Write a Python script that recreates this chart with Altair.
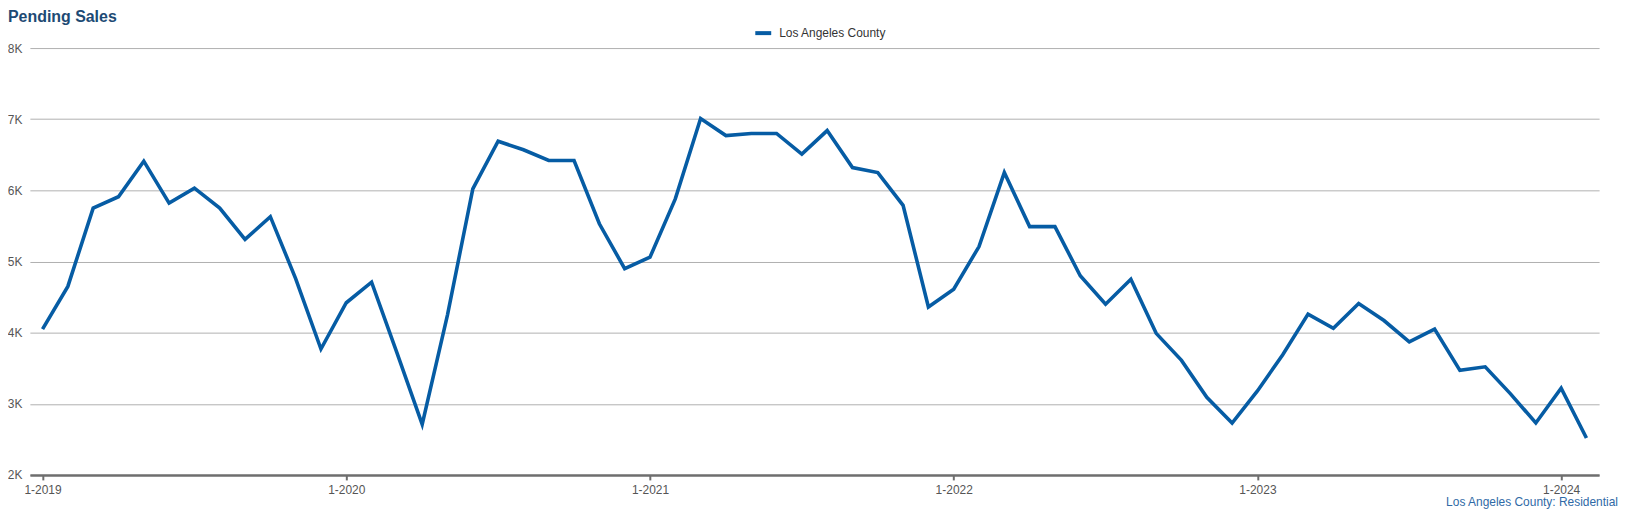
import altair as alt
import pandas as pd

# ---- data ----
years = [2019, 2020, 2021, 2022, 2023, 2024]
month_labels = [f"{m}-{y}" for y in years for m in range(1, 13)][:62]  # Jan 2019 .. Feb 2024
pending_sales = [
    4050, 4650, 5750, 5910, 6410, 5820, 6030, 5750, 5310, 5630, 4760, 3770,   # 2019
    4420, 4710, 3720, 2710, 4250, 6020, 6690, 6570, 6420, 6420, 5530, 4900,   # 2020
    5060, 5880, 7010, 6770, 6800, 6800, 6510, 6840, 6320, 6250, 5790, 4360,   # 2021
    4610, 5210, 6250, 5490, 5490, 4800, 4400, 4750, 3990, 3610, 3090, 2730,   # 2022
    3180, 3690, 4260, 4060, 4410, 4170, 3870, 4050, 3470, 3520, 3140, 2730,   # 2023
    3220, 2520,                                                              # 2024
]
series_name = "Los Angeles County"
tick_labels = ["1-2019", "1-2020", "1-2021", "1-2022", "1-2023", "1-2024"]
y_ticks = [2000, 3000, 4000, 5000, 6000, 7000, 8000]
title_text = "Pending Sales"
source_text = "Los Angeles County: Residential"

df = pd.DataFrame({
    "month": month_labels,
    "value": pending_sales,
    "series": [series_name] * len(month_labels),
})

FONT = "Liberation Sans"
LINE_COLOR = "#065ca4"

line = alt.Chart(df).mark_line(strokeWidth=3.6, strokeJoin="miter").encode(
    x=alt.X(
        "month:O",
        sort=month_labels,
        scale=alt.Scale(type="point", padding=0.5),
        axis=alt.Axis(
            values=tick_labels, title=None, labelAngle=0, grid=False,
            domainColor="#6e6e6e", domainWidth=2.5,
            tickColor="#6e6e6e", tickWidth=2, tickSize=5,
            labelColor="#555555", labelFontSize=12, labelFont=FONT, labelPadding=5,
        ),
    ),
    y=alt.Y(
        "value:Q",
        scale=alt.Scale(domain=[2000, 8000], nice=False, zero=False),
        axis=alt.Axis(
            values=y_ticks, title=None, domain=False, ticks=False,
            gridColor="#b0b0b0", gridWidth=1,
            labelExpr="datum.value / 1000 + 'K'",
            labelColor="#555555", labelFontSize=12, labelFont=FONT, labelPadding=8,
        ),
    ),
    color=alt.Color(
        "series:N",
        scale=alt.Scale(domain=[series_name], range=[LINE_COLOR]),
        legend=alt.Legend(
            title=None, orient="none", legendX=727, legendY=-25,
            symbolType="stroke", symbolStrokeWidth=4, symbolSize=256,
            labelFont=FONT, labelFontSize=12, labelColor="#333333",
            padding=0, labelOffset=6,
        ),
    ),
)

title_layer = alt.Chart(pd.DataFrame({"t": [title_text]})).mark_text(
    align="left", baseline="alphabetic", font=FONT, fontSize=16,
    fontWeight="bold", color="#1d4a74",
).encode(x=alt.value(-22), y=alt.value(-26), text="t:N")

source_layer = alt.Chart(pd.DataFrame({"t": [source_text]})).mark_text(
    align="right", baseline="middle", font=FONT, fontSize=12, color="#2f6aa6",
).encode(x=alt.value(1596), y=alt.value(456), text="t:N")

chart = alt.layer(line, title_layer, source_layer).properties(
    width=1577, height=429,
    autosize=alt.AutoSizeParams(type="none"),
    padding={"left": 22, "top": 39, "right": 22, "bottom": 36},
).configure(background="white").configure_view(stroke=None)

chart.save("out.html", embed_options={"renderer": "svg", "actions": False})
